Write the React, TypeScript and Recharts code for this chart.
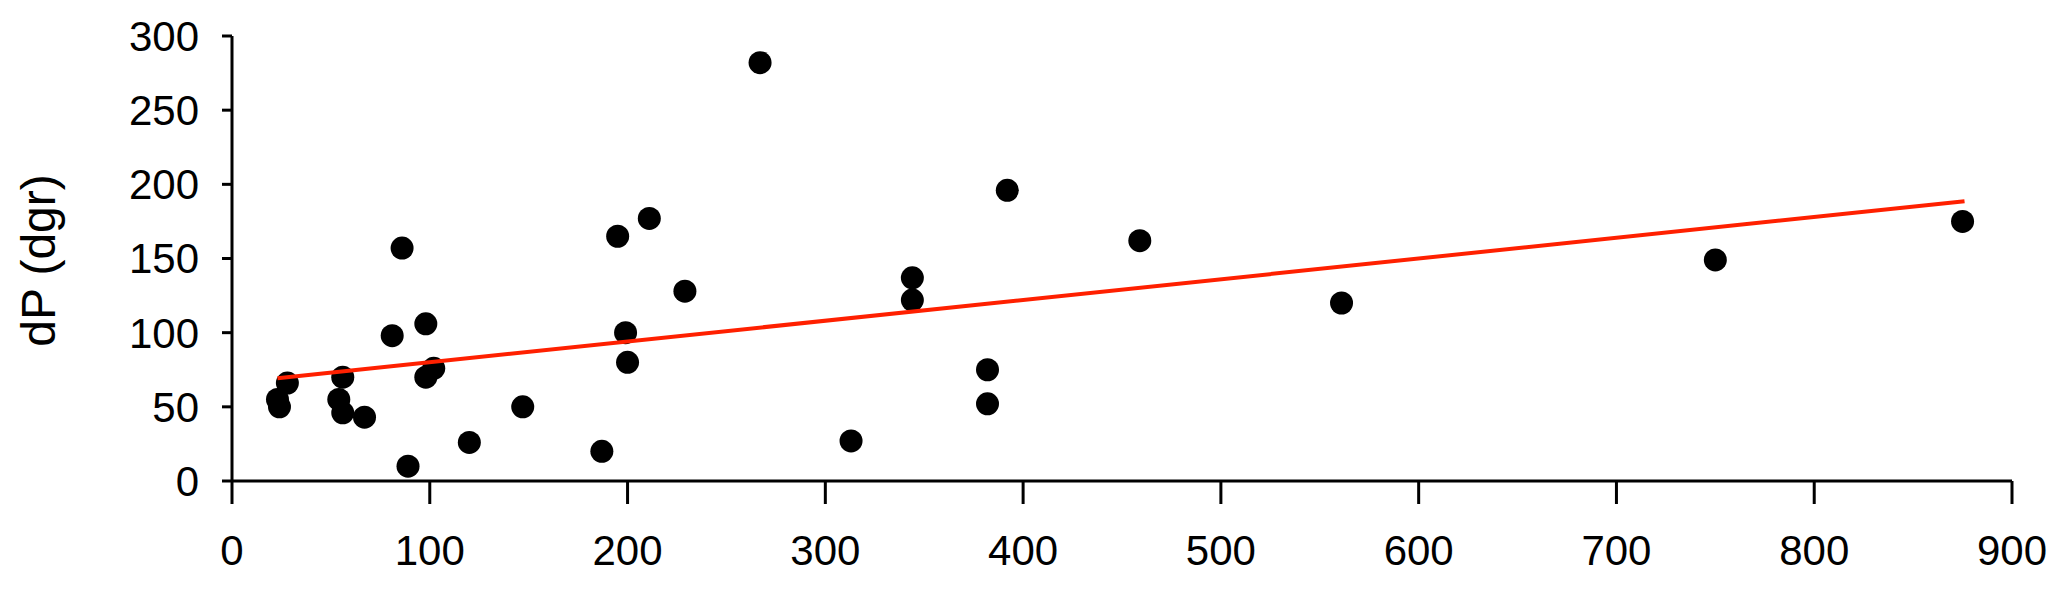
import { ScatterChart, Scatter, XAxis, YAxis, Label } from "recharts";

const xValues = [23, 24, 28, 54, 56, 56, 67, 81, 86, 89, 98, 98, 102, 120, 147, 187, 195, 199, 200, 211, 229, 267, 313, 344, 344, 382, 382, 392, 459, 561, 750, 875];
const yValues = [55, 50, 66, 55, 70, 46, 43, 98, 157, 10, 106, 70, 76, 26, 50, 20, 165, 100, 80, 177, 128, 282, 27, 137, 122, 75, 52, 196, 162, 120, 149, 175];

// fitted line
const trendX = [23, 876];
const trendY = [69.3, 188.6];

const xTicks = [0, 100, 200, 300, 400, 500, 600, 700, 800, 900];
const yTicks = [0, 50, 100, 150, 200, 250, 300];

const points = xValues.map((x, i) => ({ x, y: yValues[i] }));
const trend = trendX.map((x, i) => ({ x, y: trendY[i] }));

const font = "'Liberation Sans', Arial, sans-serif";
const tickStyle = { fill: "#000", fontSize: 42, fontFamily: font };

const Dot = (props: any) => <circle cx={props.cx} cy={props.cy} r={11.5} fill="#000" />;

const YTitle = (props: any) => {
  const vb = props.viewBox || { x: 0, y: 0, height: 0 };
  const x = vb.x + 47;
  const y = vb.y + vb.height / 2 + 2;
  return (
    <text
      x={x}
      y={y}
      transform={`rotate(-90, ${x}, ${y})`}
      textAnchor="middle"
      fontSize={48}
      fontFamily={font}
      fill="#000"
    >
      dP (dgr)
    </text>
  );
};

export default function App() {
  return (
    <ScatterChart width={2051} height={573} margin={{ top: 28, right: 47, bottom: 0, left: 0 }}>
      <XAxis
        type="number"
        dataKey="x"
        domain={[0, 900]}
        ticks={xTicks}
        interval={0}
        height={100}
        tickSize={23}
        tickMargin={31}
        axisLine={{ stroke: "#000", strokeWidth: 3 }}
        tickLine={{ stroke: "#000", strokeWidth: 3 }}
        tick={tickStyle}
      />
      <YAxis
        type="number"
        dataKey="y"
        domain={[0, 300]}
        ticks={yTicks}
        interval={0}
        width={224}
        tickSize={10}
        tickMargin={23}
        axisLine={{ stroke: "#000", strokeWidth: 3 }}
        tickLine={{ stroke: "#000", strokeWidth: 3 }}
        tick={tickStyle}
      >
        <Label content={<YTitle />} />
      </YAxis>
      <Scatter data={points} shape={<Dot />} isAnimationActive={false} />
      <Scatter
        data={trend}
        line={{ stroke: "#ff2000", strokeWidth: 4 }}
        shape={() => <g />}
        isAnimationActive={false}
      />
    </ScatterChart>
  );
}
